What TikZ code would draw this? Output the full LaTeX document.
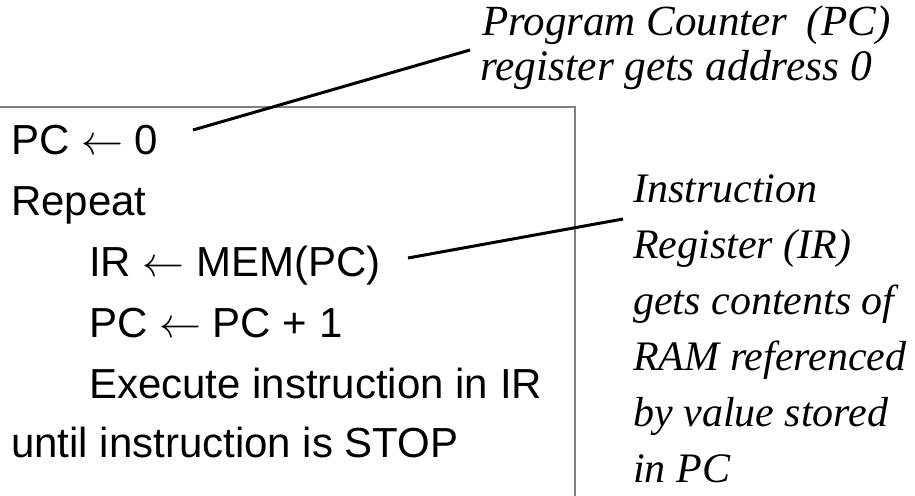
\RequirePackage{fix-cm}
\documentclass[tikz,border=0pt]{standalone}
\usepackage{fontspec}
\setmainfont{Liberation Serif}
\setsansfont{Liberation Sans}
\begin{document}
\begin{tikzpicture}[x=1pt,y=-1pt,
  code/.style={anchor=base west,inner sep=0pt,font=\sffamily\fontsize{42}{42}\selectfont},
  note/.style={anchor=base west,inner sep=0pt,font=\itshape\fontsize{42}{42}\selectfont},
  frame/.style={draw=black!50,line width=2pt},
  pointer/.style={draw=black,line width=3pt}]
\useasboundingbox (0,0) rectangle (915,495);
\clip (0,0) rectangle (915,495);

% algorithm box
\draw[frame] (-5,107) rectangle (575,510);

% fetch-execute loop
\node[code] (pc0)   at (11,154)  {PC $\leftarrow$ 0};
\node[code] (rep)   at (11,215)  {Repeat};
\node[code] (ir)    at (89,276)  {IR $\leftarrow$ MEM(PC)};
\node[code] (pcinc) at (89,337)  {PC $\leftarrow$ PC + 1};
\node[code] (exe)   at (89,398)  {Execute instruction in IR};
\node[code] (until) at (11,457)  {until instruction is STOP};

% explanatory notes
\node[note,font=\itshape\fontsize{43}{43}\selectfont] (pcnote1) at (482,36) {Program Counter\hspace{0.45em}(PC)};
\node[note,font=\itshape\fontsize{43.5}{43.5}\selectfont] (pcnote2) at (480,80) {register gets address 0};

\node[note] (irn1) at (633,202) {Instruction};
\node[note] (irn2) at (633,258) {Register (IR)};
\node[note] (irn3) at (633,314) {gets contents of};
\node[note] (irn4) at (633,370) {RAM referenced};
\node[note] (irn5) at (633,426) {by value stored};
\node[note] (irn6) at (633,482) {in PC};

% leader lines
\coordinate (a1) at (193,130);
\coordinate (b1) at (470,50);
\coordinate (a2) at (408,258);
\coordinate (b2) at (623,219);
\draw[pointer] (a1) -- (b1);
\draw[pointer] (a2) -- (b2);
\end{tikzpicture}
\end{document}
